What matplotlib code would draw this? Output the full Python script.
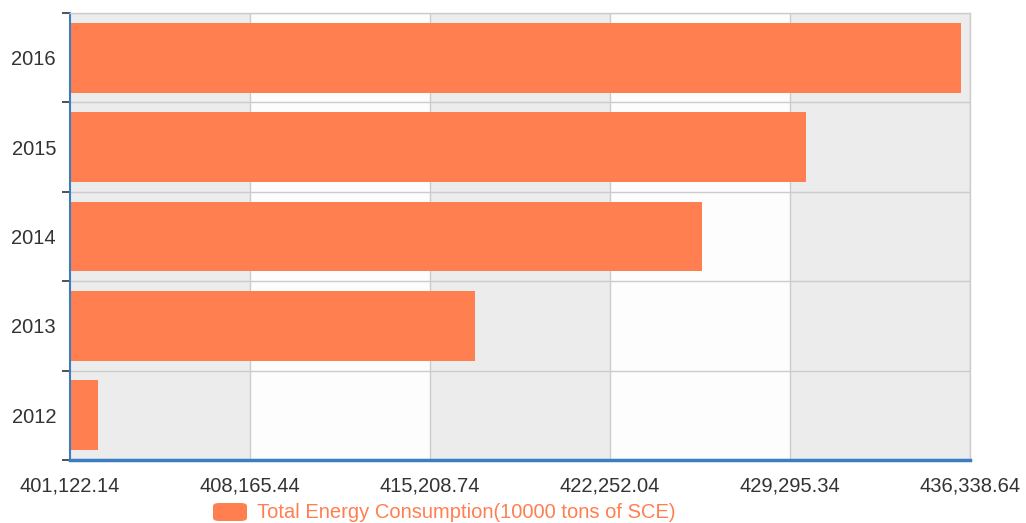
import matplotlib
matplotlib.use("Agg")
import matplotlib.pyplot as plt
from matplotlib.patches import FancyBboxPatch
import numpy as np

years = ["2012", "2013", "2014", "2015", "2016"]
values = [402206, 416969, 425852, 429921, 436000]
x_ticks = [401122.14, 408165.44, 415208.74, 422252.04, 429295.34, 436338.64]
series_name = "Total Energy Consumption(10000 tons of SCE)"

bar_color = "#FF7F50"
axis_blue = "#3a7dc0"
grid_col = "#cccccc"

plt.rcParams['font.family'] = ['Liberation Sans', 'DejaVu Sans']

fig = plt.figure(figsize=(10.26, 5.23), dpi=100)
ax = fig.add_axes([70/1026, 1-460/523, 900/1026, 447/523])

xmin, xmax = x_ticks[0], x_ticks[-1]
ax.set_xlim(xmin, xmax)
ax.set_ylim(-0.5, len(years)-0.5)

# alternating column backgrounds
for i in range(len(x_ticks)-1):
    c = "#ececec" if i % 2 == 0 else "#fdfdfd"
    ax.axvspan(x_ticks[i], x_ticks[i+1], color=c, zorder=0, lw=0)

# grid
for xt in x_ticks[1:]:
    ax.axvline(xt, color=grid_col, lw=1, zorder=1)
for b in np.arange(-0.5, len(years), 1.0)[1:]:
    ax.axhline(b, color=grid_col, lw=1, zorder=1)

y = np.arange(len(years))
ax.barh(y, [v - xmin for v in values], left=xmin, height=0.78, color=bar_color, zorder=2)

fs = 14.5
ax.set_xticks(x_ticks)
ax.set_xticklabels([f"{t:,.2f}" for t in x_ticks], fontsize=fs, color="#333333")
ax.set_yticks(np.arange(-0.5, len(years), 1.0), minor=False)
ax.set_yticklabels([])
ax.set_yticks(y, minor=True)
ax.set_yticklabels(years, minor=True, fontsize=fs, color="#333333")
ax.tick_params(axis='y', which='major', length=6, width=1.2, color="#333333", direction='out')
ax.tick_params(axis='y', which='minor', length=0, pad=10)
ax.tick_params(axis='x', length=0, pad=12)

for s in ["top", "right"]:
    ax.spines[s].set_color(grid_col)
    ax.spines[s].set_linewidth(1)
ax.spines["left"].set_color(axis_blue)
ax.spines["left"].set_linewidth(1.5)
ax.spines["bottom"].set_color(axis_blue)
ax.spines["bottom"].set_linewidth(2.5)

# legend
lx, ly, lw, lh = 213/1026, 1-521/523, 34/1026, 18/523
patch = FancyBboxPatch((lx, ly), lw, lh, boxstyle="round,pad=0,rounding_size=0.006",
                       transform=fig.transFigure, facecolor=bar_color, edgecolor="none")
fig.patches.append(patch)
fig.text(257/1026, 1-512/523, series_name, fontsize=fs, color=bar_color, va='center', ha='left')

fig.savefig("out.png", dpi=100)
